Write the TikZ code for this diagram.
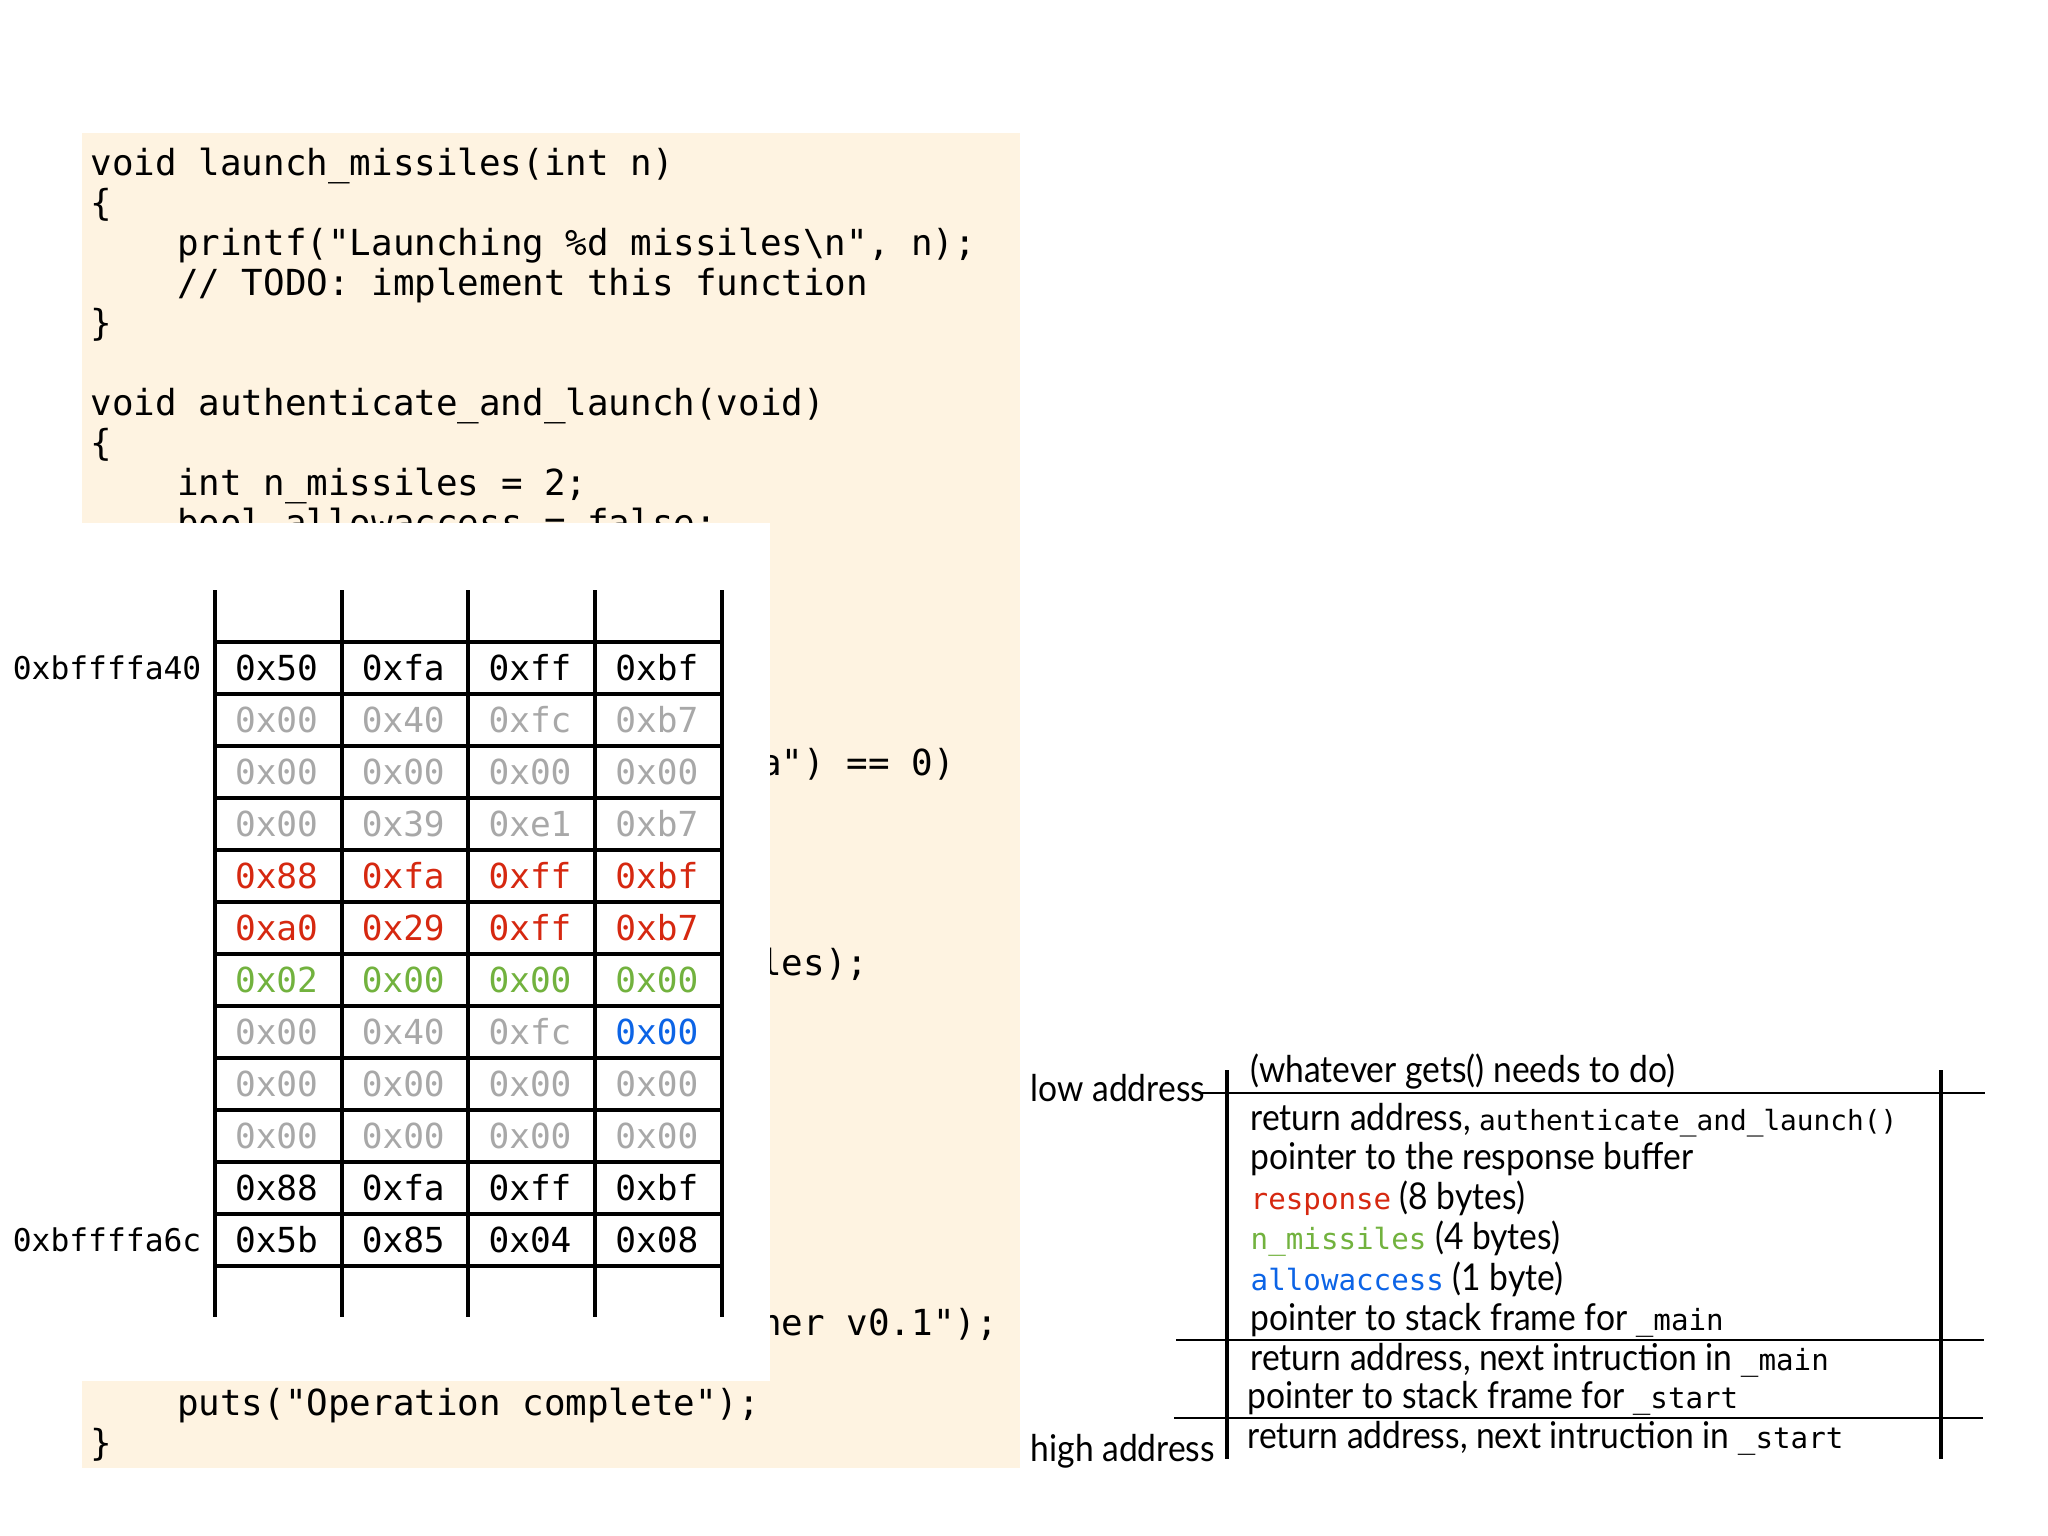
\documentclass[tikz,border=0pt]{standalone}
\usepackage{fontspec}
\setmainfont{Lato}[FakeStretch=0.91]
\setmonofont{DejaVu Sans Mono}
\usetikzlibrary{positioning}
\definecolor{codebg}{RGB}{254,243,225}
\definecolor{memgray}{RGB}{168,168,168}
\definecolor{memred}{RGB}{214,40,16}
\definecolor{memgreen}{RGB}{114,178,62}
\definecolor{memblue}{RGB}{12,100,230}
\newcommand\idt[1]{{\fontsize{8.3pt}{10pt}\ttfamily #1}}
\frenchspacing

\begin{document}
\begin{tikzpicture}[x=0.01cm,y=-0.01cm,
code/.style={anchor=base west,inner sep=0pt,font=\fontsize{10.2pt}{12pt}\ttfamily},
byte/.style={inner sep=0pt,font=\fontsize{9.8pt}{12pt}\ttfamily},
addr/.style={anchor=east,inner sep=0pt,font=\fontsize{8.9pt}{11pt}\ttfamily},
lbl/.style={anchor=base west,inner sep=0pt,font=\fontsize{10.5pt}{12pt}\selectfont},
grid/.style={line width=1pt},
frame/.style={line width=1.15pt},
sep/.style={line width=.5pt}]
\useasboundingbox(0,0)rectangle(2048,1536);

% source listing behind the memory dump
\fill[codebg](82,133)rectangle(1020,1468);
\node[code](l0)at(90,175){void launch\_missiles(int n)};
\node[code](l1)at(90,215){\{};
\node[code](l2)at(176.4,255){printf("Launching \%d missiles\textbackslash n", n);};
\node[code](l3)at(176.4,295){// TODO: implement this function};
\node[code](l4)at(90,335){\}};
\node[code](l6)at(90,415){void authenticate\_and\_launch(void)};
\node[code](l7)at(90,455){\{};
\node[code](l8)at(176.4,495){int n\_missiles = 2;};
\node[code](l9)at(176.4,535){bool allowaccess = false;};
\node[code](l15)at(759.6,775){a") == 0)};
\node[code](l20)at(759.6,975){les);};
\node[code](l29)at(759.6,1335){her v0.1");};
\node[code](l31)at(176.4,1415){puts("Operation complete");};
\node[code](l32)at(90,1455){\}};

% memory dump
\fill[white](82,523)rectangle(770,1381);
\foreach \cx in {215,342,468,595,722}\draw[grid](\cx,590)--(\cx,1317);
\foreach \ry in {0,...,12}\draw[grid](215,{642+52*\ry})--(722,{642+52*\ry});
\foreach \r/\col/\a/\b/\c/\d in {1/black/50/fa/ff/bf,2/memgray/00/40/fc/b7,3/memgray/00/00/00/00,4/memgray/00/39/e1/b7,5/memred/88/fa/ff/bf,6/memred/a0/29/ff/b7,7/memgreen/02/00/00/00,9/memgray/00/00/00/00,10/memgray/00/00/00/00,11/black/88/fa/ff/bf,12/black/5b/85/04/08}{
  \foreach \v [count=\i] in {\a,\b,\c,\d}\node[byte,text=\col](b\r-\i)at({276.5+126.75*(\i-1)},{668+52*(\r-1)}){0x\v};
}
\foreach \v [count=\i] in {00,40,fc}\node[byte,text=memgray](b8-\i)at({276.5+126.75*(\i-1)},1032){0x\v};
\node[byte,text=memblue](b8-4)at(656.8,1032){0x00};
\node[addr](top)at(202,668){0xbffffa40};
\node[addr](bot)at(202,1240){0xbffffa6c};

% stack frame layout
\draw[frame](1227,1070)--(1227,1459);
\draw[frame](1941,1070)--(1941,1459);
\draw[sep](1200,1093)--(1985,1093);
\draw[sep](1176,1340)--(1984,1340);
\draw[sep](1174,1418)--(1983,1418);
\node[lbl](low)at(1030,1101){low address};
\node[lbl](high)at(1030,1461){high address};
\node[lbl](s0)at(1250,1082.5){(whatever gets() needs to do)};
\node[lbl](s1)at(1250,1130){return address, {\fontsize{7.9pt}{10pt}\ttfamily authenticate\_and\_launch()}};
\node[lbl](s2)at(1250,1169.5){pointer to the response buffer};
\node[lbl](s3)at(1250,1209.5){\idt{\textcolor{memred}{response}} (8 bytes)};
\node[lbl](s4)at(1250,1249.5){\idt{\textcolor{memgreen}{n\_missiles}} (4 bytes)};
\node[lbl](s5)at(1250,1290){\idt{\textcolor{memblue}{allowaccess}} (1 byte)};
\node[lbl](s6)at(1250,1330){pointer to stack frame for \idt{\_main}};
\node[lbl](s7)at(1250,1370){return address, next intruction in \idt{\_main}};
\node[lbl](s8)at(1247,1408.5){pointer to stack frame for \idt{\_start}};
\node[lbl](s9)at(1247,1448.5){return address, next intruction in \idt{\_start}};
\end{tikzpicture}
\end{document}
